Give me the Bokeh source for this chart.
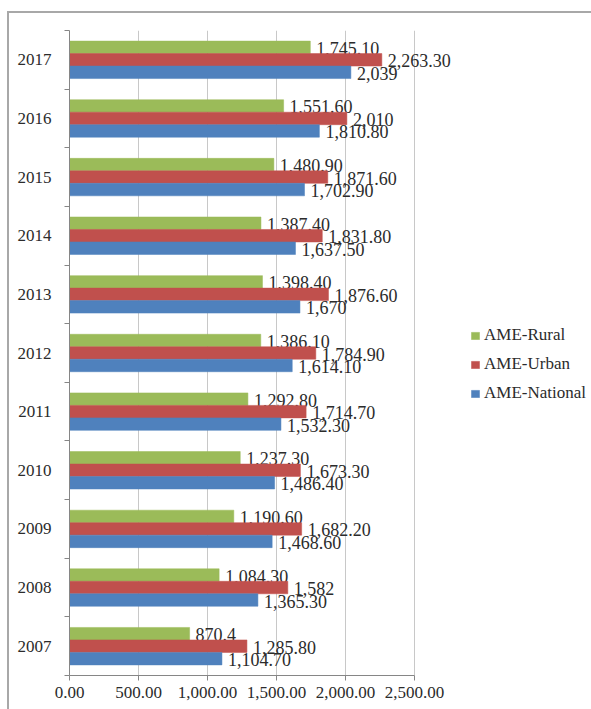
from bokeh.plotting import figure
from bokeh.models import (ColumnDataSource, FixedTicker, NumeralTickFormatter,
                          Legend, LegendItem, Range1d)
from bokeh.transform import dodge
from bokeh.core.properties import value
from bokeh.embed import file_html
from bokeh.resources import INLINE

# Average monthly expenditure by year and area
years = ["2007", "2008", "2009", "2010", "2011", "2012",
         "2013", "2014", "2015", "2016", "2017"]
rural_labels = ["870.4", "1,084.30", "1,190.60", "1,237.30", "1,292.80", "1,386.10",
                "1,398.40", "1,387.40", "1,480.90", "1,551.60", "1,745.10"]
urban_labels = ["1,285.80", "1,582", "1,682.20", "1,673.30", "1,714.70", "1,784.90",
                "1,876.60", "1,831.80", "1,871.60", "2,010", "2,263.30"]
national_labels = ["1,104.70", "1,365.30", "1,468.60", "1,486.40", "1,532.30", "1,614.10",
                   "1,670", "1,637.50", "1,702.90", "1,810.80", "2,039"]
x_ticks = [0, 500, 1000, 1500, 2000, 2500]


def to_num(labels):
    return [float(s.replace(",", "")) for s in labels]


rural = to_num(rural_labels)
urban = to_num(urban_labels)
national = to_num(national_labels)

FONT = "Liberation Serif"
TEXT_COLOR = "#2b2b2b"
BAR_H = 0.213

# The axis spans 0..2500 over 345 px; the frame continues to the right
# so that value labels and the legend are not clipped.
AXIS_MAX = x_ticks[-1]
AXIS_PX = 345
FRAME_W = 522
x_end = AXIS_MAX * FRAME_W / AXIS_PX

pos = list(range(len(years)))
src = ColumnDataSource(dict(
    pos=pos,
    rural=rural, urban=urban, national=national,
    rural_lbl=rural_labels, urban_lbl=urban_labels, national_lbl=national_labels,
))

p = figure(frame_width=FRAME_W, frame_height=645,
           min_border_left=60, min_border_right=0,
           min_border_top=17, min_border_bottom=34,
           x_range=Range1d(0, x_end), y_range=Range1d(-0.5, len(years) - 0.5),
           output_backend="svg", toolbar_location=None)
p.outline_line_color = None
p.background_fill_color = "white"
p.border_fill_color = "white"
p.styles = {"margin-left": "7px", "margin-top": "11px",
            "border-left": "2px solid #a8a8a8", "border-top": "2px solid #a8a8a8"}

series = [
    ("AME-Rural", "rural", "#9BBB59", BAR_H),
    ("AME-Urban", "urban", "#C0504D", 0.0),
    ("AME-National", "national", "#4F81BD", -BAR_H),
]

items = []
for name, col, color, off in series:
    r = p.hbar(y=dodge("pos", off), right=col, left=0, height=BAR_H,
               source=src, fill_color=color, line_color=color, line_width=0.5)
    items.append(LegendItem(label=name, renderers=[r]))
    p.text(x=col, y=dodge("pos", off), text=col + "_lbl", source=src,
           x_offset=6, y_offset=1, text_baseline="middle", text_align="left",
           text_font=value(FONT), text_font_size="18px", text_color=TEXT_COLOR)

# x axis
p.xaxis.ticker = FixedTicker(ticks=x_ticks)
p.xaxis.bounds = (0, AXIS_MAX)
p.xaxis.formatter = NumeralTickFormatter(format="0,0.00")
p.xaxis.axis_line_color = "#868686"
p.xaxis.major_tick_line_color = "#868686"
p.xaxis.major_tick_out = 5
p.xaxis.major_tick_in = 0
p.xaxis.minor_tick_line_color = None
p.xaxis.major_label_standoff = 6
p.xaxis.major_label_text_font = FONT
p.xaxis.major_label_text_font_size = "17px"
p.xaxis.major_label_text_color = TEXT_COLOR

# y axis: labels at category centres, ticks at category boundaries
p.yaxis.ticker = FixedTicker(ticks=pos, minor_ticks=[i - 0.5 for i in range(len(years) + 1)])
p.yaxis.major_label_overrides = {i: y for i, y in zip(pos, years)}
p.yaxis.axis_line_color = "#868686"
p.yaxis.major_tick_line_color = None
p.yaxis.minor_tick_line_color = "#868686"
p.yaxis.minor_tick_out = 5
p.yaxis.minor_tick_in = 0
p.yaxis.major_label_standoff = 12
p.yaxis.major_label_text_font = FONT
p.yaxis.major_label_text_font_size = "17px"
p.yaxis.major_label_text_color = TEXT_COLOR

p.xgrid.ticker = FixedTicker(ticks=x_ticks)
p.xgrid.bounds = (0, AXIS_MAX)
p.xgrid.grid_line_color = "#c8c8c8"
p.ygrid.grid_line_color = None

legend = Legend(items=list(items), location=(401, 272),
                glyph_width=10, glyph_height=9, label_standoff=4,
                label_text_font=FONT, label_text_font_size="17px",
                label_text_color=TEXT_COLOR, label_height=20, spacing=9,
                padding=0, margin=0, border_line_color=None,
                background_fill_alpha=0)
p.add_layout(legend, "center")

open("out.html", "w").write(file_html(p, INLINE))
